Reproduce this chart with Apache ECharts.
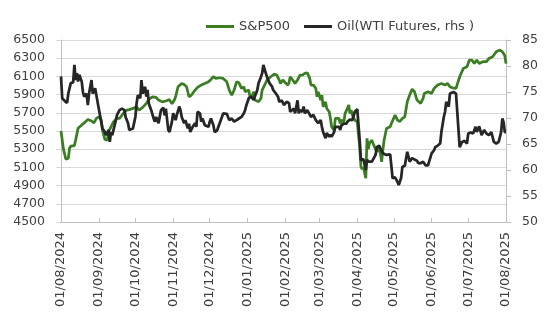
<!DOCTYPE html>
<html>
<head>
<meta charset="utf-8">
<script src="https://cdn.jsdelivr.net/npm/echarts@6/dist/echarts.min.js"></script>
<style>html,body{margin:0;padding:0;background:#fff;}#c{width:548px;height:324px;}</style>
</head>
<body>
<div id="c"></div>
<script>
const tickDates = ['2024-08-01','2024-09-01','2024-10-01','2024-11-01','2024-12-01','2025-01-01','2025-02-01','2025-03-01','2025-04-01','2025-05-01','2025-06-01','2025-07-01','2025-08-01'];
const seriesNames = ['S&P500', 'Oil(WTI Futures, rhs )'];

const spxDates = ['2024-08-01','2024-08-02','2024-08-03','2024-08-05','2024-08-07','2024-08-08','2024-08-09','2024-08-12','2024-08-13','2024-08-15','2024-08-18','2024-08-21','2024-08-23','2024-08-26','2024-08-28','2024-08-30','2024-09-01','2024-09-03','2024-09-04','2024-09-06','2024-09-08','2024-09-09','2024-09-11','2024-09-13','2024-09-16','2024-09-18','2024-09-21','2024-09-24','2024-09-26','2024-09-29','2024-10-02','2024-10-04','2024-10-07','2024-10-10','2024-10-12','2024-10-15','2024-10-18','2024-10-20','2024-10-23','2024-10-26','2024-10-29','2024-10-31','2024-11-02','2024-11-03','2024-11-05','2024-11-08','2024-11-10','2024-11-12','2024-11-14','2024-11-16','2024-11-19','2024-11-21','2024-11-24','2024-11-27','2024-11-30','2024-12-02','2024-12-04','2024-12-06','2024-12-07','2024-12-09','2024-12-12','2024-12-15','2024-12-16','2024-12-17','2024-12-19','2024-12-20','2024-12-21','2024-12-23','2024-12-25','2024-12-27','2024-12-29','2024-12-30','2024-12-31','2025-01-02','2025-01-03','2025-01-05','2025-01-06','2025-01-07','2025-01-10','2025-01-12','2025-01-13','2025-01-15','2025-01-17','2025-01-20','2025-01-23','2025-01-25','2025-01-27','2025-01-28','2025-01-30','2025-02-01','2025-02-03','2025-02-04','2025-02-05','2025-02-07','2025-02-09','2025-02-11','2025-02-13','2025-02-15','2025-02-17','2025-02-19','2025-02-21','2025-02-22','2025-02-24','2025-02-26','2025-02-27','2025-02-28','2025-03-02','2025-03-03','2025-03-04','2025-03-06','2025-03-07','2025-03-09','2025-03-10','2025-03-11','2025-03-13','2025-03-14','2025-03-15','2025-03-17','2025-03-18','2025-03-19','2025-03-21','2025-03-22','2025-03-24','2025-03-25','2025-03-26','2025-03-27','2025-03-28','2025-03-30','2025-04-01','2025-04-02','2025-04-03','2025-04-04','2025-04-05','2025-04-06','2025-04-08','2025-04-09','2025-04-10','2025-04-11','2025-04-13','2025-04-14','2025-04-15','2025-04-17','2025-04-18','2025-04-20','2025-04-21','2025-04-22','2025-04-23','2025-04-25','2025-04-26','2025-04-28','2025-04-29','2025-04-30','2025-05-02','2025-05-04','2025-05-06','2025-05-08','2025-05-10','2025-05-12','2025-05-14','2025-05-16','2025-05-18','2025-05-20','2025-05-23','2025-05-25','2025-05-26','2025-05-29','2025-06-01','2025-06-03','2025-06-06','2025-06-09','2025-06-10','2025-06-12','2025-06-14','2025-06-16','2025-06-18','2025-06-21','2025-06-24','2025-06-27','2025-06-30','2025-07-02','2025-07-04','2025-07-06','2025-07-08','2025-07-10','2025-07-13','2025-07-16','2025-07-18','2025-07-21','2025-07-24','2025-07-27','2025-07-29','2025-07-30','2025-07-31','2025-08-01'];
const spxValues = [5500,5400,5300,5190,5200,5310,5333,5340,5400,5530,5565,5600,5627,5610,5590,5638,5656,5620,5510,5407,5400,5490,5546,5600,5638,5638,5693,5730,5735,5748,5766,5730,5759,5803,5847,5876,5870,5840,5820,5830,5845,5800,5840,5876,5986,6023,6010,5986,5876,5895,5950,5980,6005,6023,6041,6067,6096,6078,6060,6085,6078,6041,6060,5950,5895,5920,5950,6041,6030,5968,5986,5931,5913,5950,5876,5895,5931,5840,5821,5858,5950,6005,6060,6096,6126,6115,6060,6023,6060,6030,6005,6030,6096,6060,6023,6060,6115,6115,6133,6140,6078,6005,6005,5968,5876,5931,5840,5895,5766,5820,5748,5711,5638,5546,5510,5638,5656,5638,5583,5620,5600,5693,5748,5785,5693,5730,5675,5620,5600,5600,5325,5105,5080,5105,4980,5420,5300,5366,5399,5363,5380,5271,5325,5253,5161,5290,5399,5528,5546,5546,5583,5594,5675,5620,5605,5638,5656,5821,5895,5960,5931,5840,5803,5858,5913,5931,5913,5968,6005,6023,6041,6005,6023,5986,5975,5968,6096,6188,6206,6280,6280,6243,6280,6243,6261,6261,6298,6316,6371,6390,6370,6353,6330,6240];

const oilDates = ['2024-08-01','2024-08-02','2024-08-04','2024-08-06','2024-08-07','2024-08-09','2024-08-11','2024-08-12','2024-08-13','2024-08-14','2024-08-15','2024-08-16','2024-08-18','2024-08-19','2024-08-20','2024-08-22','2024-08-23','2024-08-24','2024-08-26','2024-08-27','2024-08-29','2024-08-30','2024-08-31','2024-09-01','2024-09-03','2024-09-04','2024-09-06','2024-09-07','2024-09-09','2024-09-10','2024-09-11','2024-09-12','2024-09-14','2024-09-16','2024-09-18','2024-09-20','2024-09-22','2024-09-23','2024-09-25','2024-09-26','2024-09-27','2024-09-29','2024-10-01','2024-10-02','2024-10-03','2024-10-05','2024-10-06','2024-10-07','2024-10-09','2024-10-10','2024-10-11','2024-10-12','2024-10-14','2024-10-16','2024-10-17','2024-10-18','2024-10-20','2024-10-22','2024-10-24','2024-10-25','2024-10-26','2024-10-28','2024-10-29','2024-10-31','2024-11-01','2024-11-03','2024-11-04','2024-11-06','2024-11-07','2024-11-08','2024-11-10','2024-11-11','2024-11-13','2024-11-14','2024-11-15','2024-11-17','2024-11-19','2024-11-20','2024-11-21','2024-11-23','2024-11-24','2024-11-25','2024-11-27','2024-11-30','2024-12-01','2024-12-02','2024-12-04','2024-12-05','2024-12-07','2024-12-09','2024-12-11','2024-12-12','2024-12-13','2024-12-15','2024-12-16','2024-12-17','2024-12-19','2024-12-21','2024-12-23','2024-12-25','2024-12-27','2024-12-29','2024-12-30','2024-12-31','2025-01-02','2025-01-04','2025-01-05','2025-01-06','2025-01-07','2025-01-09','2025-01-10','2025-01-12','2025-01-13','2025-01-14','2025-01-16','2025-01-17','2025-01-19','2025-01-21','2025-01-22','2025-01-24','2025-01-26','2025-01-27','2025-01-29','2025-01-31','2025-02-02','2025-02-04','2025-02-05','2025-02-06','2025-02-08','2025-02-09','2025-02-11','2025-02-12','2025-02-13','2025-02-15','2025-02-16','2025-02-17','2025-02-19','2025-02-20','2025-02-22','2025-02-24','2025-02-26','2025-02-27','2025-02-28','2025-03-02','2025-03-03','2025-03-04','2025-03-06','2025-03-07','2025-03-09','2025-03-10','2025-03-11','2025-03-13','2025-03-14','2025-03-15','2025-03-17','2025-03-18','2025-03-19','2025-03-21','2025-03-23','2025-03-24','2025-03-26','2025-03-28','2025-03-30','2025-04-01','2025-04-02','2025-04-03','2025-04-04','2025-04-06','2025-04-08','2025-04-09','2025-04-10','2025-04-11','2025-04-13','2025-04-14','2025-04-16','2025-04-17','2025-04-19','2025-04-20','2025-04-22','2025-04-23','2025-04-25','2025-04-26','2025-04-28','2025-04-30','2025-05-02','2025-05-04','2025-05-05','2025-05-07','2025-05-08','2025-05-10','2025-05-12','2025-05-13','2025-05-14','2025-05-16','2025-05-18','2025-05-20','2025-05-21','2025-05-23','2025-05-25','2025-05-27','2025-05-29','2025-05-30','2025-06-01','2025-06-03','2025-06-04','2025-06-06','2025-06-08','2025-06-09','2025-06-11','2025-06-12','2025-06-13','2025-06-15','2025-06-16','2025-06-17','2025-06-19','2025-06-21','2025-06-22','2025-06-24','2025-06-26','2025-06-28','2025-06-30','2025-07-01','2025-07-03','2025-07-05','2025-07-07','2025-07-08','2025-07-10','2025-07-12','2025-07-14','2025-07-16','2025-07-18','2025-07-20','2025-07-22','2025-07-24','2025-07-26','2025-07-28','2025-07-29','2025-07-30','2025-07-31','2025-08-01'];
const oilValues = [78.0,73.8,73.3,72.9,74.7,76.7,76.9,80.2,77.3,78.6,77.0,78.3,77.0,75.0,74.1,74.7,72.5,74.7,77.3,74.7,75.7,74.4,74.1,71.8,69.3,68.0,67.3,66.7,67.7,65.4,67.3,66.7,68.6,70.6,71.5,71.8,71.5,70.2,69.0,67.7,68.0,68.0,70.2,72.8,74.4,73.8,77.3,74.7,76.0,74.1,75.4,72.8,71.5,69.9,69.3,70.2,69.0,71.5,72.0,70.5,71.8,67.7,67.3,69.3,70.9,69.6,70.6,72.2,71.5,70.2,69.0,69.6,68.0,68.9,67.3,68.3,69.0,68.3,71.2,70.9,69.3,69.9,68.6,68.3,69.3,69.9,68.6,67.3,67.6,68.9,70.2,70.9,71.2,70.8,70.2,69.6,69.9,69.3,69.6,69.9,70.2,70.9,71.5,72.4,73.8,74.1,73.8,73.5,73.5,75.4,76.7,77.9,78.6,80.2,78.6,77.9,76.7,76.1,75.4,74.8,74.1,73.1,73.4,72.5,73.1,72.9,71.2,70.9,71.8,70.9,73.4,70.9,71.5,71.2,72.2,70.9,71.5,71.2,70.2,70.6,69.6,69.9,69.0,69.6,68.3,67.3,66.1,67.1,66.4,66.8,66.4,67.3,68.3,68.0,68.3,67.7,68.6,68.9,68.9,69.3,69.7,69.6,71.2,71.7,71.5,65.7,61.9,62.1,60.0,62.0,61.6,61.4,61.6,61.4,62.9,64.4,64.7,64.1,63.2,62.9,62.9,62.6,63.0,58.4,58.6,57.7,57.1,58.5,60.6,60.8,63.5,62.6,61.6,62.3,62.0,61.8,61.3,61.3,61.6,60.9,60.9,60.6,63.2,63.8,64.4,64.7,65.1,67.3,70.2,71.2,73.1,72.2,74.7,75.0,75.0,74.7,74.7,64.4,65.4,65.6,65.1,67.0,67.2,67.0,68.3,67.3,68.4,66.7,67.7,67.0,66.7,67.3,65.4,65.1,65.4,67.3,69.9,69.2,67.3,67.3];

function ts(s){ const p = s.split('-').map(Number); return new Date(p[0], p[1]-1, p[2]).getTime(); }
function pad(n){ return (n < 10 ? '0' : '') + n; }

const FONT = 'DejaVu Sans';
const GREEN = '#3a7d22';
const BLACK = '#262626';
const ticks = tickDates.map(ts);

const chart = echarts.init(document.getElementById('c'), null, {renderer: 'canvas'});
chart.setOption({
  animation: false,
  backgroundColor: '#ffffff',
  legend: {
    top: 15, left: 201,
    icon: 'rect', itemWidth: 28, itemHeight: 3, itemGap: 14,
    textStyle: {fontFamily: FONT, fontSize: 13, color: '#404040'},
    data: seriesNames
  },
  grid: {left: 61, right: 42, top: 40, bottom: 102},
  xAxis: {
    type: 'value',
    min: ticks[0], max: ticks[ticks.length-1],
    axisLine: {lineStyle: {color: '#bfbfbf', width: 1}},
    axisTick: {show: true, inside: true, length: 4, customValues: ticks, lineStyle: {color: '#bfbfbf'}},
    axisLabel: {
      customValues: ticks, rotate: 90, margin: 10,
      fontFamily: FONT, fontSize: 13, color: '#404040',
      formatter: function (v) { const d = new Date(v); return pad(d.getDate()) + '/' + pad(d.getMonth()+1) + '/' + d.getFullYear(); }
    },
    splitLine: {show: false}
  },
  yAxis: [
    {
      type: 'value', position: 'left', min: 4500, max: 6500, interval: 200,
      axisLine: {show: true, lineStyle: {color: '#bfbfbf'}},
      axisTick: {show: true, length: 5, lineStyle: {color: '#d9d9d9'}},
      axisLabel: {margin: 16, fontFamily: FONT, fontSize: 12.5, color: '#404040', formatter: function (v) { return String(v); }},
      splitLine: {show: true, lineStyle: {color: '#d9d9d9', width: 1}}
    },
    {
      type: 'value', position: 'right', min: 50, max: 85, interval: 5,
      axisLine: {show: true, lineStyle: {color: '#bfbfbf'}},
      axisTick: {show: true, length: 5, lineStyle: {color: '#bfbfbf'}},
      axisLabel: {margin: 16, fontFamily: FONT, fontSize: 12.5, color: '#404040', formatter: function (v) { return String(v); }},
      splitLine: {show: false}
    }
  ],
  series: [
    {
      name: seriesNames[0], type: 'line', yAxisIndex: 0, symbol: 'none', showSymbol: false,
      data: spxDates.map((d, i) => [ts(d), spxValues[i]]),
      lineStyle: {color: GREEN, width: 2.75}, itemStyle: {color: GREEN}
    },
    {
      name: seriesNames[1], type: 'line', yAxisIndex: 1, symbol: 'none', showSymbol: false,
      data: oilDates.map((d, i) => [ts(d), oilValues[i]]),
      lineStyle: {color: BLACK, width: 2.75}, itemStyle: {color: BLACK}
    }
  ]
});
</script>
</body>
</html>
